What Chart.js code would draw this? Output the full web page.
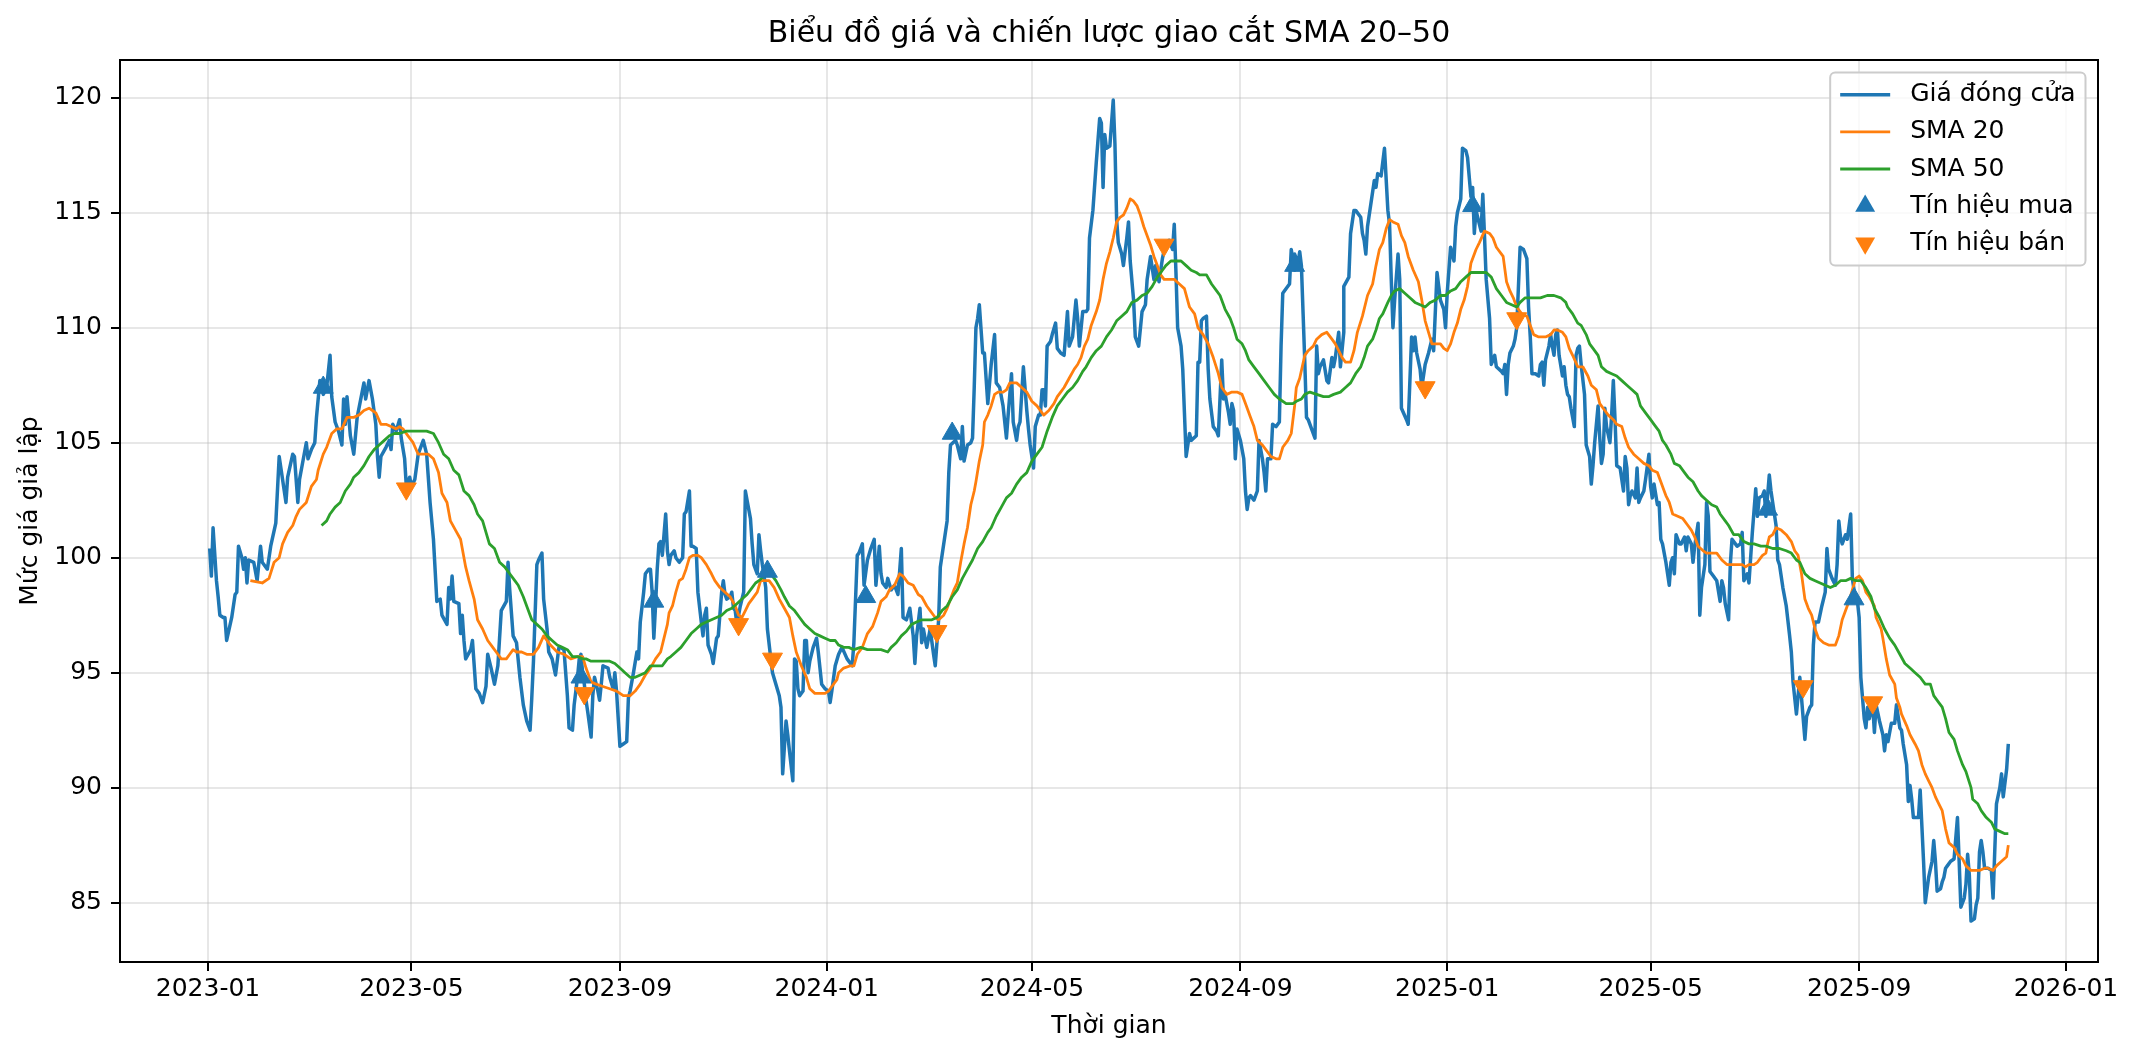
<!DOCTYPE html>
<html>
<head>
<meta charset="utf-8">
<title>Biểu đồ giá và chiến lược giao cắt SMA 20–50</title>
<script src="https://cdn.jsdelivr.net/npm/chart.js@4.4.1/dist/chart.umd.min.js"></script>
<style>
  html, body { margin: 0; padding: 0; background: #fff; }
  canvas { display: block; }
</style>
</head>
<body>
<canvas id="chart" width="2136" height="1058"></canvas>
<script>
// x values are days counted from startDate
const startDate = Date.UTC(2023, 0, 1);
const tickMonths = ['2023-01', '2023-05', '2023-09', '2024-01', '2024-05', '2024-09', '2025-01', '2025-05', '2025-09', '2026-01'];
const yTicks = [85, 90, 95, 100, 105, 110, 115, 120];

// [day, closing price]
const pricePoints = [
  [1,100.4],[2,99.2],[3,101.3],[5,99.0],[6,98.3],[7,97.5],[9,97.4],[10,97.4],[11,96.4],[14,97.4],[16,98.4],[17,98.5],[18,100.5],[20,100.0],[21,99.5],[22,100.0],[23,98.9],[24,99.9],[27,99.8],[29,99.0],[31,100.5],[32,99.8],[35,99.5],[37,100.5],[40,101.5],[42,104.4],[46,102.4],[47,103.5],[50,104.5],[51,104.4],[53,102.4],[54,103.4],[58,105.0],[59,104.3],[61,104.7],[63,105.0],[64,106.1],[66,107.7],[68,107.1],[70,107.4],[72,108.8],[73,107.0],[75,105.9],[77,105.5],[79,104.9],[80,106.9],[81,105.8],[82,107.0],[84,105.3],[86,104.5],[88,106.1],[92,107.6],[93,106.9],[95,107.7],[97,106.9],[99,105.8],[100,104.4],[101,103.5],[102,104.4],[105,104.8],[107,105.1],[108,104.7],[109,105.8],[111,105.5],[113,106.0],[114,105.2],[116,104.3],[117,103.1],[119,103.5],[120,103.1],[122,103.4],[124,104.5],[127,105.1],[129,104.5],[131,102.4],[133,100.8],[135,98.1],[137,98.2],[138,97.5],[141,97.1],[142,98.7],[143,98.2],[144,99.2],[145,98.1],[148,98.0],[149,96.7],[150,97.5],[151,96.4],[152,95.6],[155,96.0],[156,96.4],[158,94.3],[160,94.1],[162,93.7],[164,94.4],[165,95.8],[167,95.2],[169,94.5],[171,95.3],[173,97.7],[176,98.1],[177,99.8],[178,98.6],[180,96.6],[182,96.3],[184,94.8],
  [186,93.6],[188,92.9],[190,92.5],[191,93.9],[192,95.5],[194,99.7],[195,99.9],[197,100.2],[198,98.2],[200,96.9],[201,95.9],[203,95.6],[205,94.9],[206,95.5],[207,96.1],[208,96.1],[210,96.0],[212,94.0],[213,92.6],[215,92.5],[216,93.6],[218,94.8],[219,95.6],[220,95.8],[221,95.0],[222,94.5],[223,93.8],[224,93.3],[226,92.2],[227,94.0],[228,94.8],[230,94.2],[231,93.8],[232,94.5],[233,95.3],[236,95.2],[237,94.8],[239,94.3],[240,95.0],[241,94.2],[243,91.8],[245,91.9],[247,92.0],[248,93.9],[249,94.2],[251,95.0],[253,95.9],[254,95.6],[255,97.2],[257,98.5],[258,99.3],[260,99.5],[261,99.5],[262,98.5],[263,96.5],[264,97.9],[265,99.5],[266,100.6],[267,100.7],[268,100.1],[270,101.9],[271,100.3],[272,99.7],[273,100.1],[275,100.3],[276,100.0],[278,99.8],[280,100.0],[281,101.9],[282,102.0],[284,102.9],[285,100.5],[286,100.5],[288,100.4],[289,98.5],[291,97.2],[292,96.6],[293,97.5],[294,97.8],[295,96.2],[297,95.8],[298,95.4],[300,96.5],[301,96.6],[303,98.5],[304,99.0],[305,98.4],[306,98.2],[308,98.3],[309,98.5],[310,97.8],[311,97.7],[312,97.1],[314,97.9],[316,98.5],[317,102.9],[320,101.7],[321,100.6],[322,99.7],[324,99.3],[325,101.0],[326,100.3],[327,99.7],[329,98.7],[330,96.9],[332,95.6],[333,95.0],[335,94.5],[337,94.0],[338,93.5],[339,90.6],[341,92.9],[342,92.3],[343,91.6],[345,90.3],[346,95.6],[347,95.5],[348,94.3],[349,94.0],[351,94.2],[352,96.4],[353,96.4],[354,95.0],[355,95.5],[357,96.1],[359,96.5],[360,95.9],[362,94.5],[364,94.3],[366,94.2],[367,93.7],[368,94.2],[370,95.3],[372,95.8],[374,96.1],
  [377,95.6],[380,95.3],[381,96.3],[383,100.1],[384,100.2],[386,100.6],[387,98.8],[389,99.9],[391,100.4],[393,100.8],[394,98.8],[396,100.5],[397,99.3],[398,98.9],[400,98.7],[401,99.1],[403,98.6],[405,98.8],[407,98.4],[409,100.4],[410,97.4],[412,97.3],[414,97.8],[416,96.6],[417,95.4],[418,96.6],[420,97.8],[421,96.3],[422,96.9],[424,96.1],[426,96.9],[428,95.8],[429,95.3],[431,97.3],[432,99.6],[434,100.6],[436,101.6],[437,103.7],[438,104.9],[441,105.1],[442,104.9],[444,104.3],[445,105.7],[446,104.2],[448,104.9],[450,105.0],[451,105.2],[452,107.4],[453,110.0],[454,110.4],[455,111.0],[457,108.9],[458,108.9],[460,106.7],[462,108.4],[464,109.7],[465,107.6],[467,107.4],[469,106.6],[471,105.2],[472,106.2],[474,108.0],[475,105.9],[477,105.1],[478,105.7],[479,105.9],[481,108.3],[483,106.4],[484,105.6],[485,104.9],[487,103.9],[488,105.7],[490,106.2],[491,106.2],[492,107.3],[493,107.3],[494,106.6],[495,109.2],[497,109.4],[498,109.7],[500,110.2],[501,109.1],[503,108.9],[505,108.8],[507,110.7],[508,109.2],[510,109.6],[512,111.2],[513,110.4],[514,109.2],[516,110.7],[518,110.7],[519,110.8],[520,113.9],[522,115.1],[524,117.2],[526,119.1],[527,118.9],[528,116.1],[529,118.4],[530,117.8],[532,117.9],[534,119.9],[535,118.0],[536,114.7],[537,113.7],[539,113.2],[540,112.7],[542,113.9],[543,114.6],[544,112.9],[546,111.2],[547,109.6],[549,109.2],[551,110.7],[553,111.0],[554,112.1],[555,112.6],[556,113.1],[558,112.1],[559,112.7],[561,112.0],[563,113.0],
  [565,113.7],[567,113.8],[569,113.4],[570,114.5],[571,112.4],[572,110.0],[574,109.2],[575,108.2],[576,106.3],[577,104.4],[579,105.4],[580,105.1],[583,105.3],[584,108.5],[585,108.5],[586,110.3],[587,110.4],[589,110.5],[590,108.2],[591,106.9],[593,105.7],[595,105.5],[596,105.3],[598,108.6],[599,106.9],[600,107.1],[602,106.3],[603,105.8],[604,106.7],[605,106.4],[606,104.3],[607,105.6],[609,105.1],[611,104.3],[612,102.9],[613,102.1],[614,102.6],[615,102.7],[617,102.5],[619,102.9],[620,105.1],[622,104.3],[623,103.7],[624,102.9],[625,104.3],[627,104.3],[628,105.8],[630,105.7],[632,105.9],[633,109.2],[634,111.5],[637,111.8],[638,111.9],[639,113.4],[641,112.5],[641,113.2],[643,112.8],[644,113.3],[645,112.7],[646,110.6],[647,108.5],[648,106.1],[649,106.0],[651,105.6],[653,105.2],[654,109.2],[655,108.0],[656,108.3],[658,108.6],[660,107.7],[661,107.6],[663,108.7],[664,108.3],[665,108.7],[667,109.8],[668,108.3],[670,109.8],[670,111.8],[673,112.2],[674,114.1],[676,115.1],[677,115.1],[680,114.8],[681,114.1],[682,113.8],[683,113.2],[684,114.4],[686,115.4],[688,116.4],[689,116.1],[690,116.7],[692,116.6],[694,117.8],[696,115.1],[697,114.5],[698,112.1],[699,110.0],[700,111.2],[702,113.2],[703,112.1],[704,106.5],[707,106.0],[708,105.8],[710,109.6],[711,109.0],[712,109.6],[713,108.9],[715,108.2],[716,107.4],[718,108.4],[720,108.9],[722,109.5],[723,109.0],[725,112.4],[727,111.2],[729,110.8],[730,110.0],[731,111.5],[733,113.5],[735,112.9],[736,114.4],[737,115.0],[739,115.6],[740,117.8],[742,117.7],[743,117.4],[745,115.7],[746,116.1],[747,114.1],[748,115.1],[749,114.8],[750,114.5],[751,114.2],[752,115.8],[753,114.0],[754,112.1],
  [756,110.4],[757,108.4],[759,108.8],[760,108.3],[763,108.1],[764,108.0],[765,108.4],[766,107.1],[767,108.4],[768,108.9],[770,109.2],[771,109.5],[772,110.0],[774,113.5],[776,113.4],[778,113.0],[779,110.9],[780,109.6],[781,108.0],[783,108.0],[785,107.9],[786,108.4],[787,108.5],[788,107.5],[789,108.6],[791,109.2],[792,109.7],[793,109.2],[794,108.8],[795,109.7],[796,109.9],[797,108.8],[799,107.9],[800,108.3],[801,107.5],[802,107.1],[803,107.0],[804,106.5],[806,105.7],[807,108.8],[808,109.1],[809,109.2],[810,108.4],[812,107.1],[813,104.9],[815,104.4],[816,103.2],[817,104.0],[818,105.0],[820,106.6],[821,105.2],[822,104.1],[823,104.5],[824,106.5],[825,105.7],[827,105.0],[828,106.2],[829,107.7],[830,106.0],[831,104.0],[833,103.9],[834,103.4],[835,102.9],[836,104.4],[837,103.9],[838,102.3],[839,102.7],[840,102.9],[842,102.6],[843,103.9],[844,102.4],[845,102.6],[847,102.9],[848,103.4],[850,104.5],[851,103.1],[852,102.6],[853,103.2],[855,102.3],[856,102.4],[857,100.8],[858,100.6],[860,99.8],[861,99.3],[862,98.8],[863,99.8],[864,100.0],[865,99.3],[866,101.0],[868,100.6],[869,100.6],[871,100.9],[872,100.3],[873,100.9],[875,100.6],[876,99.8],[877,100.5],[879,101.5],[880,97.5],[881,98.7],[883,99.7],[884,102.4],[885,101.8],[886,99.4],[888,99.2],[890,99.0],[892,98.1],[893,99.0],[894,98.7],[895,98.0],[897,97.3],[898,99.7],[899,100.8],[901,100.6],[902,100.5],[904,100.6],[905,101.1],[906,99.0],[908,99.3],[909,98.9],[910,100.0],[911,101.1],[913,103.0],[914,101.8],[915,102.6],[917,102.7],[918,102.9],[919,101.8],[920,102.7],[921,103.6],[922,102.9],[924,101.9],[925,101.4],[926,99.9],[927,99.7],[929,98.7],[931,97.9],[933,96.6],[934,95.9],[935,94.6],[937,93.2],
  [939,94.8],[940,93.9],[942,92.1],[943,93.1],[945,93.5],[946,93.6],[947,96.2],[948,97.2],[950,97.2],[952,97.9],[954,98.5],[955,100.4],[956,99.5],[958,99.1],[960,98.8],[961,99.7],[962,101.6],[963,100.9],[964,100.6],[966,101.0],[967,100.8],[969,101.9],[970,99.1],[972,98.1],[973,98.1],[974,97.4],[975,94.8],[977,93.0],[978,92.6],[979,93.5],[980,93.0],[982,93.6],[983,92.4],[984,93.6],[986,92.9],[988,92.3],[989,91.6],[990,92.3],[991,92.0],[993,92.8],[995,92.8],[996,93.6],[998,92.6],[999,92.5],[1000,91.9],[1002,91.0],[1003,89.4],[1004,90.1],[1005,89.5],[1006,88.7],[1008,88.7],[1009,88.7],[1010,89.9],[1012,86.8],[1013,85.0],[1015,86.1],[1017,86.8],[1018,87.7],[1019,86.8],[1020,85.5],[1022,85.6],[1023,85.9],[1024,86.1],[1025,86.5],[1026,86.6],[1028,86.8],[1030,86.9],[1032,88.7],[1033,86.8],[1034,84.8],[1036,85.2],[1037,85.8],[1038,87.1],[1039,86.2],[1040,84.2],[1042,84.3],[1043,84.9],[1044,85.2],[1045,87.2],[1046,87.7],[1047,87.2],[1048,86.5],[1050,86.5],[1052,86.4],[1053,85.2],[1055,89.3],[1057,90.0],[1058,90.6],[1059,89.6],[1061,90.8],[1062,91.9]
];

// [day, SMA 20]
const sma20Points = [
  [25,99.0],[32,98.9],[36,99.1],[39,99.8],[42,100.0],[44,100.6],[47,101.1],[50,101.4],[52,101.8],[54,102.1],[58,102.4],[61,103.1],[64,103.4],[65,103.8],[68,104.5],[70,104.8],[73,105.4],[76,105.6],[79,105.6],[82,106.1],[86,106.1],[89,106.2],[92,106.4],[95,106.5],[97,106.4],[99,106.3],[102,105.8],[105,105.8],[108,105.7],[111,105.6],[113,105.7],[115,105.6],[118,105.3],[121,105.0],[124,104.5],[127,104.5],[130,104.5],[133,104.3],[136,103.7],[138,102.8],[141,102.4],[143,101.6],[146,101.2],[149,100.8],[152,99.6],[154,99.0],[157,98.2],[159,97.3],[162,96.9],[165,96.4],[168,96.1],[171,95.8],[173,95.6],[176,95.6],[178,95.8],[180,96.0],[182,95.9],[185,95.9],
  [188,95.8],[192,95.8],[195,96.1],[198,96.6],[202,96.2],[206,95.9],[210,95.8],[214,95.6],[218,95.7],[221,95.7],[223,95.2],[226,94.6],[229,94.5],[233,94.4],[237,94.3],[241,94.2],[245,94.0],[249,94.0],[252,94.2],[255,94.5],[258,94.9],[261,95.2],[264,95.6],[267,95.9],[269,96.5],[271,97.1],[272,97.6],[274,97.9],[276,98.5],[278,99.0],[280,99.1],[282,99.5],[284,100.0],[286,100.1],[289,100.1],[291,100.0],[294,99.7],[297,99.3],[299,99.0],[302,98.7],[305,98.5],[308,98.3],[311,97.9],[313,97.5],[315,97.4],[317,97.7],[319,98.0],[321,98.2],[324,98.5],[326,99.0],[328,99.0],[331,99.0],[334,98.7],[337,98.2],[340,97.8],[343,97.4],[345,96.6],[347,95.9],[350,95.3],[353,94.8],[355,94.3],[358,94.1],[361,94.1],[364,94.1],[366,94.2],[368,94.4],[371,94.7],[372,95.0],[375,95.2],
  [379,95.3],[381,95.3],[383,95.8],[386,96.1],[389,96.7],[392,97.0],[395,97.6],[397,98.1],[400,98.3],[402,98.6],[405,98.8],[408,99.3],[410,99.2],[413,98.9],[416,98.8],[419,98.4],[421,98.3],[424,97.9],[426,97.7],[429,97.4],[431,97.3],[434,97.5],[436,97.8],[438,98.2],[440,98.6],[442,98.9],[444,99.8],[446,100.6],[448,101.3],[450,102.3],[452,102.9],[453,103.3],[455,104.2],[457,104.9],[458,105.9],[460,106.2],[462,106.6],[464,107.1],[466,107.2],[469,107.2],[471,107.3],[473,107.6],[477,107.6],[480,107.4],[483,107.2],[486,106.8],[489,106.6],[491,106.4],[493,106.2],[496,106.4],[499,106.7],[501,107.0],[503,107.2],[505,107.4],[508,107.8],[511,108.2],[513,108.4],[515,108.7],[517,109.2],[519,109.5],[521,110.1],[524,110.7],[526,111.2],[528,112.1],[530,112.8],[532,113.3],[534,113.9],[536,114.6],[538,114.8],[540,114.9],[542,115.2],[544,115.6],[546,115.5],[548,115.3],[550,114.9],[552,114.4],[554,114.0],[556,113.6],[558,113.1],[560,112.7],[562,112.3],[564,112.1],
  [566,112.1],[570,112.1],[573,111.9],[576,111.7],[579,110.9],[582,110.6],[584,110.0],[587,109.7],[590,109.3],[593,108.7],[596,108.0],[598,107.4],[601,107.1],[604,107.2],[607,107.2],[610,107.1],[612,106.7],[615,106.1],[617,105.7],[619,105.1],[622,104.9],[624,104.7],[627,104.4],[630,104.3],[632,104.3],[634,104.8],[637,105.1],[639,105.4],[641,106.6],[642,107.4],[644,107.8],[647,108.8],[649,109.0],[652,109.2],[654,109.5],[657,109.7],[660,109.8],[663,109.5],[665,109.3],[667,109.0],[669,108.7],[671,108.5],[674,108.5],[676,109.0],[678,109.8],[681,110.5],[684,111.4],[687,111.9],[689,112.7],[691,113.4],[693,113.7],[695,114.3],[697,114.7],[699,114.6],[702,114.5],[704,114.0],[706,113.7],[708,113.1],[711,112.5],[714,112.0],[716,111.2],[718,110.3],[720,109.8],[722,109.3],[725,109.3],[727,109.3],[729,109.1],[731,109.0],[733,109.3],[735,109.8],[737,110.2],[739,110.8],[741,111.2],[743,111.8],[745,112.8],[748,113.4],[750,113.7],[753,114.2],[756,114.1],
  [758,113.9],[760,113.5],[764,113.1],[766,112.0],[768,111.6],[770,111.3],[772,110.9],[775,110.6],[778,110.5],[780,110.1],[782,109.7],[785,109.6],[789,109.6],[792,109.7],[794,109.9],[796,109.9],[799,109.8],[801,109.6],[803,109.1],[805,108.8],[808,108.3],[811,108.3],[814,107.9],[816,107.5],[819,107.3],[821,106.7],[824,106.4],[826,106.2],[829,106.0],[831,105.8],[834,105.7],[836,105.2],[838,104.8],[841,104.5],[844,104.3],[847,104.1],[850,104.0],[852,103.8],[855,103.7],[857,103.3],[859,102.9],[860,102.7],[862,102.4],[864,101.9],[867,101.8],[870,101.7],[873,101.4],[875,101.2],[877,100.9],[879,100.5],[882,100.3],[884,100.2],[887,100.2],[890,100.2],[893,99.9],[896,99.7],[899,99.7],[902,99.7],[905,99.7],[907,99.6],[909,99.7],[912,99.7],[914,99.8],[917,100.1],[919,100.2],[920,100.6],[921,100.9],[923,101.0],[925,101.3],[928,101.2],[931,101.0],[934,100.7],[936,100.3],
  [938,100.1],[940,99.3],[942,98.2],[944,97.8],[946,97.5],[948,96.9],[950,96.5],[953,96.3],[956,96.2],[960,96.2],[962,96.6],[964,97.3],[966,97.7],[968,98.1],[970,98.6],[972,99.1],[974,99.2],[976,99.0],[978,98.5],[980,98.3],[983,97.9],[984,97.4],[987,96.9],[988,96.5],[990,95.6],[992,94.9],[995,94.5],[996,93.9],[998,93.5],[999,93.2],[1002,92.7],[1004,92.3],[1007,91.9],[1009,91.6],[1011,91.0],[1013,90.6],[1015,90.3],[1017,90.0],[1019,89.6],[1021,89.3],[1023,89.0],[1025,88.2],[1027,87.6],[1030,87.4],[1032,87.1],[1035,86.9],[1037,86.6],[1040,86.4],[1042,86.4],[1045,86.4],[1048,86.5],[1050,86.5],[1053,86.4],[1055,86.6],[1058,86.8],[1061,87.0],[1062,87.5]
];

// [day, SMA 50]
const sma50Points = [
  [67,101.4],[70,101.6],[72,101.9],[75,102.2],[78,102.4],[81,102.9],[84,103.2],[86,103.5],[89,103.7],[92,104.0],[95,104.4],[98,104.7],[101,104.9],[104,105.1],[107,105.3],[110,105.4],[113,105.4],[117,105.5],[121,105.5],[124,105.5],[129,105.5],[133,105.4],[136,105.0],[139,104.5],[142,104.3],[145,103.8],[148,103.6],[151,102.9],[154,102.7],[157,102.3],[159,101.9],[162,101.6],[164,101.1],[166,100.6],[169,100.4],[172,99.8],[175,99.6],[178,99.3],[181,99.0],[183,98.8],[186,98.3],
  [188,97.9],[191,97.3],[194,97.1],[197,96.9],[200,96.6],[203,96.4],[206,96.2],[209,96.1],[212,96.0],[215,95.7],[218,95.7],[221,95.6],[223,95.6],[226,95.5],[229,95.5],[233,95.5],[237,95.5],[240,95.4],[243,95.2],[246,95.0],[249,94.8],[252,94.8],[255,94.9],[258,95.0],[261,95.3],[265,95.3],[268,95.3],[271,95.6],[273,95.7],[276,95.9],[279,96.1],[282,96.4],[285,96.7],[288,96.9],[291,97.1],[294,97.2],[297,97.3],[300,97.4],[303,97.5],[306,97.7],[309,97.8],[312,98.0],[315,98.2],[318,98.4],[321,98.7],[323,98.9],[325,99.0],[328,99.2],[331,99.3],[333,99.2],[335,99.0],[338,98.6],[340,98.3],[343,97.9],[346,97.7],[349,97.4],[352,97.1],[355,96.9],[358,96.7],[361,96.6],[364,96.5],[367,96.4],[370,96.4],[372,96.2],[375,96.1],
  [378,96.1],[381,96.0],[385,96.1],[389,96.0],[393,96.0],[397,96.0],[401,95.9],[403,96.1],[406,96.3],[409,96.6],[412,96.8],[415,97.1],[418,97.2],[421,97.3],[424,97.3],[427,97.3],[430,97.4],[433,97.7],[436,97.9],[439,98.3],[442,98.6],[445,99.1],[448,99.5],[451,99.9],[454,100.4],[457,100.7],[460,101.1],[462,101.3],[465,101.8],[468,102.2],[471,102.6],[474,102.8],[477,103.2],[480,103.5],[483,103.7],[486,104.2],[489,104.5],[492,104.8],[495,105.5],[498,106.1],[501,106.6],[504,106.9],[507,107.2],[510,107.4],[513,107.7],[516,108.1],[518,108.3],[521,108.7],[524,109.0],[527,109.2],[530,109.6],[533,109.9],[536,110.3],[539,110.5],[542,110.7],[545,111.1],[548,111.2],[551,111.4],[554,111.5],[557,111.8],[560,112.2],[563,112.5],
  [565,112.7],[568,112.9],[571,112.9],[574,112.9],[577,112.7],[580,112.5],[583,112.4],[585,112.3],[589,112.3],[592,111.9],[595,111.6],[597,111.4],[600,110.8],[603,110.4],[605,110.0],[607,109.5],[610,109.3],[612,109.0],[614,108.6],[617,108.3],[620,108.0],[623,107.7],[626,107.4],[629,107.1],[632,106.9],[636,106.7],[640,106.7],[642,106.8],[645,106.9],[647,107.1],[650,107.2],[654,107.1],[658,107.0],[661,107.0],[664,107.1],[668,107.2],[671,107.4],[674,107.6],[677,108.0],[680,108.3],[682,108.7],[684,109.2],[687,109.5],[689,109.9],[691,110.4],[693,110.6],[696,111.1],[698,111.4],[700,111.6],[703,111.7],[706,111.5],[709,111.3],[712,111.1],[715,111.0],[718,110.9],[721,111.1],[724,111.2],[727,111.4],[730,111.4],[733,111.6],[736,111.7],[739,112.0],[742,112.2],[745,112.4],[748,112.4],[751,112.4],[754,112.4],
  [757,112.2],[760,111.7],[763,111.4],[766,111.1],[769,111.0],[772,110.9],[774,111.1],[777,111.3],[780,111.3],[783,111.3],[786,111.3],[790,111.4],[794,111.4],[798,111.3],[801,111.1],[802,110.9],[805,110.6],[808,110.2],[810,110.1],[813,109.7],[815,109.3],[817,109.1],[820,108.8],[822,108.3],[825,108.1],[828,108.0],[831,107.9],[834,107.7],[837,107.5],[840,107.3],[843,107.1],[845,106.6],[848,106.3],[851,106.0],[853,105.8],[856,105.5],[858,105.1],[860,104.9],[863,104.5],[865,104.1],[868,104.0],[871,103.7],[873,103.5],[876,103.3],[879,102.9],[881,102.7],[884,102.5],[887,102.3],[890,102.2],[892,101.9],[895,101.6],[897,101.4],[900,101.0],[903,101.0],[906,100.7],[909,100.6],[912,100.6],[916,100.5],[919,100.5],[923,100.4],[927,100.4],[931,100.3],[934,100.2],[937,99.9],
  [939,99.8],[942,99.3],[945,99.1],[948,99.0],[951,98.9],[954,98.8],[957,98.7],[960,98.8],[963,99.0],[966,99.0],[969,99.1],[972,99.0],[975,99.0],[978,98.7],[981,98.3],[983,97.8],[986,97.4],[989,96.9],[992,96.5],[995,96.2],[998,95.8],[1001,95.4],[1004,95.2],[1007,95.0],[1010,94.8],[1013,94.5],[1016,94.5],[1018,94.0],[1021,93.7],[1023,93.5],[1025,93.0],[1027,92.4],[1030,92.1],[1032,91.6],[1035,91.0],[1037,90.7],[1040,90.0],[1041,89.5],[1044,89.3],[1046,89.0],[1049,88.7],[1052,88.5],[1054,88.2],[1057,88.1],[1060,88.0],[1062,88.0]
];

const buySignals = [[68,107.4],[220,94.8],[263,98.1],[330,99.4],[388,98.3],[439,105.4],[641,112.7],[746,115.3],[920,102.1],[971,98.2]];
const sellSignals = [[117,103.0],[222,94.1],[313,97.1],[333,95.6],[430,96.8],[564,113.6],[718,107.4],[772,110.4],[941,94.4],[982,93.7]];

const FONT = "'DejaVu Sans', sans-serif";
Chart.defaults.font.family = FONT;
Chart.defaults.color = '#000';

const toXY = pts => pts.map(p => ({ x: p[0], y: p[1] }));
const monthToDay = s => {
  const [y, m] = s.split('-').map(Number);
  return (Date.UTC(y, m - 1, 1) - startDate) / 86400000;
};
const xTickDays = tickMonths.map(monthToDay);
const GRID = 'rgba(176,176,176,0.3)';

function triangle(ctx, x, y, r, down) {
  const s = down ? -1 : 1;
  ctx.beginPath();
  for (let k = 0; k < 3; k++) {
    const a = k * 2 * Math.PI / 3;
    const px = x + Math.sin(a) * r * s;
    const py = y - Math.cos(a) * r * s;
    if (k === 0) ctx.moveTo(px, py); else ctx.lineTo(px, py);
  }
  ctx.closePath();
  ctx.fill();
}

// axes box on all four sides
const framePlugin = {
  id: 'frame',
  afterDatasetsDraw(chart) {
    const { ctx, chartArea: a } = chart;
    ctx.save();
    ctx.strokeStyle = '#000';
    ctx.lineWidth = 2;
    ctx.strokeRect(a.left, a.top, a.right - a.left, a.bottom - a.top);
    ctx.restore();
  }
};

// legend in the upper right corner, inside the axes
const legendPlugin = {
  id: 'innerLegend',
  afterDraw(chart) {
    const { ctx, chartArea } = chart;
    const fs = 25;
    const items = chart.data.datasets;
    ctx.save();
    ctx.font = fs + 'px ' + FONT;
    const textW = Math.max(...items.map(d => ctx.measureText(d.label).width));
    const pad = 0.4 * fs, handleLen = 2 * fs, handlePad = 0.8 * fs;
    const rowH = 24.6, rowGap = 0.5 * fs;
    const w = pad + handleLen + handlePad + textW + pad;
    const h = 2 * pad + items.length * rowH + (items.length - 1) * rowGap;
    const right = chartArea.right - 0.5 * fs;
    const top = chartArea.top + 0.5 * fs;
    const left = right - w;

    ctx.beginPath();
    ctx.roundRect(left, top, w, h, 5);
    ctx.fillStyle = 'rgba(255,255,255,0.8)';
    ctx.fill();
    ctx.strokeStyle = '#cccccc';
    ctx.lineWidth = 2;
    ctx.stroke();

    items.forEach((d, i) => {
      const cy = top + pad + rowH / 2 + i * (rowH + rowGap);
      const hx = left + pad;
      if (d.type === 'scatter') {
        ctx.fillStyle = d.backgroundColor;
        triangle(ctx, hx + handleLen / 2, cy, d.pointRadius, d.pointRotation === 180);
      } else {
        ctx.beginPath();
        ctx.moveTo(hx, cy);
        ctx.lineTo(hx + handleLen, cy);
        ctx.strokeStyle = d.borderColor;
        ctx.lineWidth = d.borderWidth;
        ctx.stroke();
      }
      ctx.fillStyle = '#000';
      ctx.textAlign = 'left';
      ctx.textBaseline = 'middle';
      ctx.fillText(d.label, hx + handleLen + handlePad, cy);
    });
    ctx.restore();
  }
};

const lineStyle = { pointRadius: 0, tension: 0, borderJoinStyle: 'round', fill: false };

new Chart(document.getElementById('chart'), {
  type: 'line',
  data: {
    datasets: [
      { label: 'Giá đóng cửa', data: toXY(pricePoints), borderColor: '#1f77b4', borderWidth: 3.5, order: 5, ...lineStyle },
      { label: 'SMA 20', data: toXY(sma20Points), borderColor: '#ff7f0e', borderWidth: 2.8, order: 4, ...lineStyle },
      { label: 'SMA 50', data: toXY(sma50Points), borderColor: '#2ca02c', borderWidth: 2.8, order: 3, ...lineStyle },
      { label: 'Tín hiệu mua', type: 'scatter', data: toXY(buySignals), pointStyle: 'triangle', pointRadius: 11.5,
        pointRotation: 0, backgroundColor: '#1f77b4', borderColor: '#1f77b4', borderWidth: 1, order: 2 },
      { label: 'Tín hiệu bán', type: 'scatter', data: toXY(sellSignals), pointStyle: 'triangle', pointRadius: 11.5,
        pointRotation: 180, backgroundColor: '#ff7f0e', borderColor: '#ff7f0e', borderWidth: 1, order: 1 }
    ]
  },
  options: {
    responsive: false,
    animation: false,
    devicePixelRatio: 1,
    layout: { padding: { left: 0, right: 38, top: 0, bottom: 0 } },
    plugins: {
      legend: { display: false },
      tooltip: { enabled: false },
      title: {
        display: true,
        fullSize: false,
        text: 'Biểu đồ giá và chiến lược giao cắt SMA 20–50',
        color: '#000',
        font: { size: 30, weight: 'normal', family: FONT },
        padding: { top: 16, bottom: 8 }
      }
    },
    scales: {
      x: {
        type: 'linear',
        min: -51.9,
        max: 1114.9,
        afterBuildTicks: s => { s.ticks = xTickDays.map(v => ({ value: v })); },
        afterFit: s => { s.height = 96; },
        ticks: {
          autoSkip: false, maxRotation: 0, padding: 3,
          font: { size: 25 }, color: '#000',
          callback: (v, i) => tickMonths[i]
        },
        grid: { color: GRID, lineWidth: 2, tickColor: '#000', tickWidth: 2, tickLength: 9 },
        border: { display: false },
        title: { display: true, text: 'Thời gian', font: { size: 25 }, color: '#000', padding: { top: 0, bottom: 17 } }
      },
      y: {
        min: 82.42,
        max: 121.64,
        afterBuildTicks: s => { s.ticks = yTicks.map(v => ({ value: v })); },
        afterFit: s => { s.width = 120; },
        ticks: { padding: 9, font: { size: 25 }, color: '#000', callback: v => String(v) },
        grid: { color: GRID, lineWidth: 2, tickColor: '#000', tickWidth: 2, tickLength: 9 },
        border: { display: false },
        title: { display: true, text: 'Mức giá giả lập', font: { size: 25 }, color: '#000', padding: { top: 15, bottom: 0 } }
      }
    }
  },
  plugins: [framePlugin, legendPlugin]
});
</script>
</body>
</html>
